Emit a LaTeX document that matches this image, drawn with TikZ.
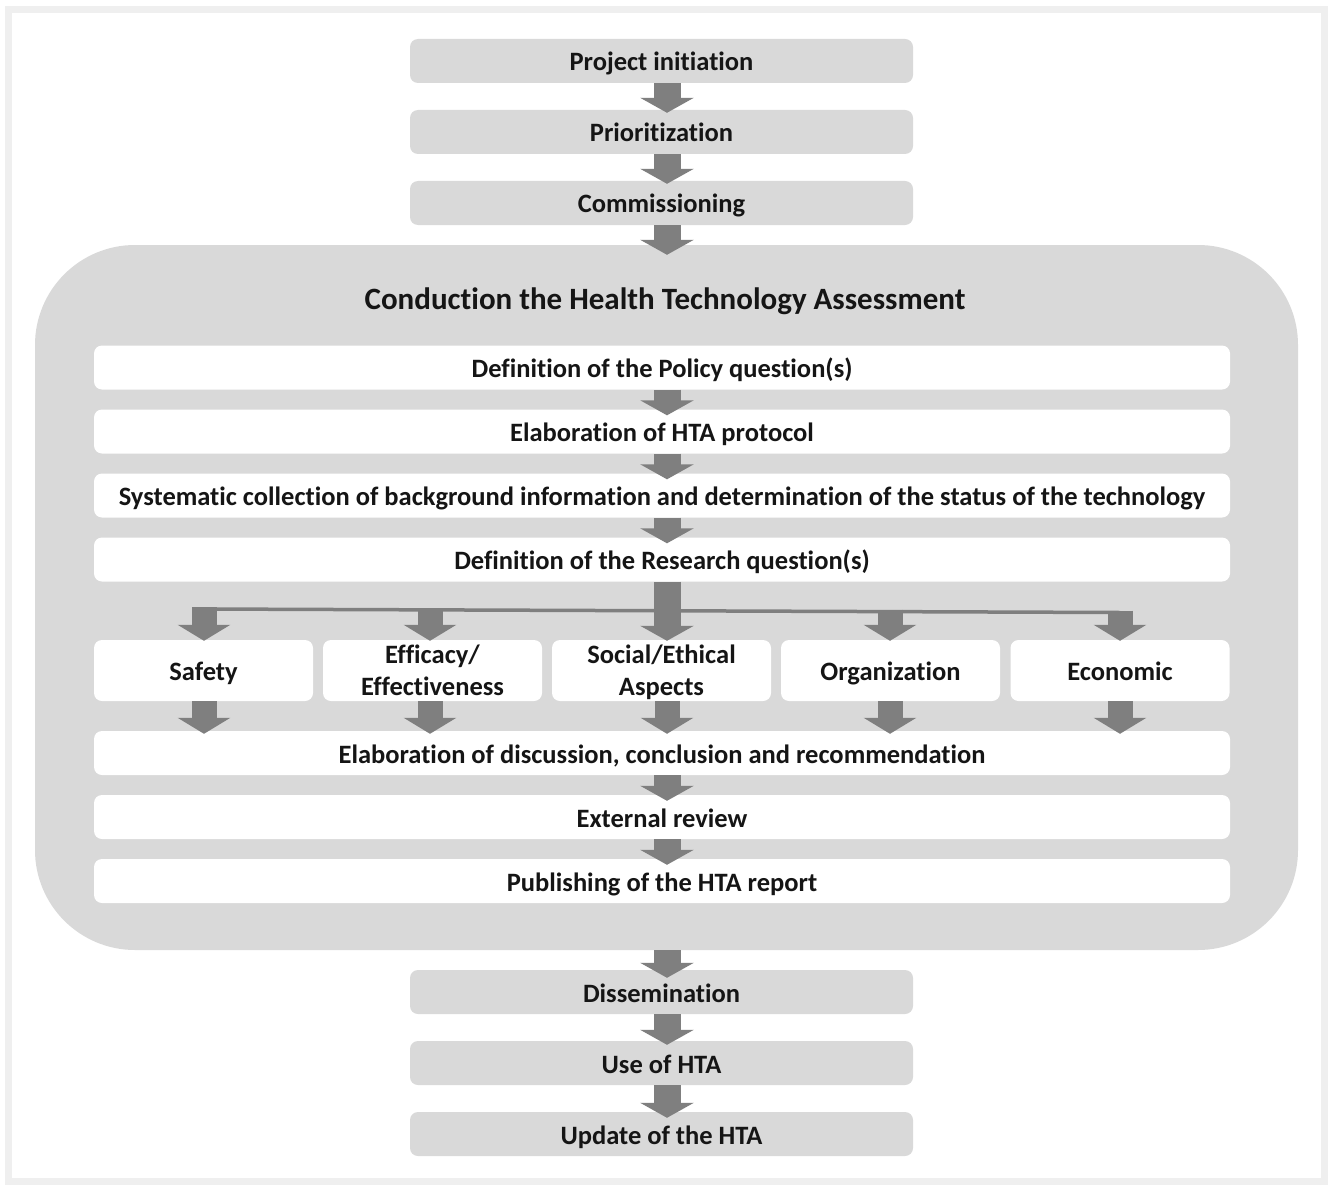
\documentclass[tikz,border=0pt]{standalone}
\usepackage{fontspec}
\setmainfont{Carlito}[Ligatures={NoCommon}]
\usetikzlibrary{arrows.meta,calc}
\definecolor{boxgray}{HTML}{D9D9D9}
\definecolor{arrgray}{HTML}{7F7F7F}
\definecolor{framegray}{HTML}{EFEFEF}
\definecolor{txt}{HTML}{151515}
\begin{document}
\begin{tikzpicture}[x=1pt,y=-1pt,
 lab/.style={font=\bfseries\fontsize{26.5}{32}\selectfont, text=txt, align=center, inner sep=0pt},
 one/.style={text height=22pt, text depth=2pt},
 gbox/.style={lab, one, fill=boxgray, rounded corners=8pt, minimum width=503pt, minimum height=44pt},
 wbox/.style={lab, one, fill=white, rounded corners=8pt, minimum width=1136pt, minimum height=44pt},
 sbox/.style={lab, fill=white, rounded corners=8pt, minimum width=219pt, minimum height=61pt},
 blk/.style={draw=arrgray, line width=27pt, -{Triangle[width=53pt,length=15pt]}},
 sblk/.style={draw=arrgray, line width=25pt, -{Triangle[width=52pt,length=16pt]}},
]
\useasboundingbox (0,0) rectangle (1330,1185);
\fill[white] (0,0) rectangle (1330,1185);
\draw[framegray, line width=7pt] (8,9.5) rectangle (1324,1181);

\coordinate (ax) at (667,0);

% top boxes
\node[gbox] (pi) at (661.5,61) {Project initiation};
\node[gbox] (pr) at (661.5,132) {Prioritization};
\node[gbox] (co) at (661.5,203) {Commissioning};

% container
\node[fill=boxgray, rounded corners=100pt, minimum width=1263pt, minimum height=705pt, inner sep=0pt] (hta) at (666.5,597.5) {};
\node[lab, font=\bfseries\fontsize{31}{36}\selectfont, text height=21pt, text depth=0pt] (title) at (665,299) {Conduction the Health Technology Assessment};

\node[wbox] (pq) at (662,367.5) {Definition of the Policy question(s)};
\node[wbox] (hp) at (662,431.5) {Elaboration of HTA protocol};
\node[wbox] (sc) at (662,495.5) {Systematic collection of background information and determination of the status of the technology};
\node[wbox] (rq) at (662,559.5) {Definition of the Research question(s)};

\node[sbox, one] (sa) at (203.5,670.5) {Safety};
\node[sbox] (ef) at (432.5,670.5) {Efficacy/\\Effectiveness};
\node[sbox] (so) at (661.5,670.5) {Social/Ethical\\\raisebox{0pt}[\height][0pt]{Aspects}};
\node[sbox, one] (or) at (890.5,670.5) {Organization};
\node[sbox, one] (ec) at (1120,670.5) {Economic};

\node[wbox] (el) at (662,753) {Elaboration of discussion, conclusion and recommendation};
\node[wbox] (er) at (662,817) {External review};
\node[wbox] (pu) at (662,881) {Publishing of the HTA report};

% bottom boxes
\node[gbox] (di) at (661.5,992) {Dissemination};
\node[gbox] (us) at (661.5,1063) {Use of HTA};
\node[gbox] (up) at (661.5,1134) {Update of the HTA};

% main column arrows
\draw[blk] (pi.south -| ax) -- ($(pr.north -| ax)+(0,3)$);
\draw[blk] (pr.south -| ax) -- ($(co.north -| ax)+(0,3)$);
\draw[blk] (co.south -| ax) -- ($(hta.north -| ax)+(0,10)$);
\draw[blk] (pq.south -| ax) -- ($(hp.north -| ax)+(0,6)$);
\draw[blk] (hp.south -| ax) -- ($(sc.north -| ax)+(0,6)$);
\draw[blk] (sc.south -| ax) -- ($(rq.north -| ax)+(0,6)$);

% branching
\coordinate (b1) at (204,609);
\coordinate (b2) at (430,610);
\coordinate (b4) at (890,611.5);
\coordinate (b5) at (1120,612.5);
\draw[arrgray, line width=3.5pt] (b1) -- (b5);
\draw[blk] (rq.south -| ax) -- ($(so.north -| ax)+(0,1)$);
\draw[sblk] ($(b1)+(0,-2)$) -- ($(sa.north -| b1)+(0,1)$);
\draw[sblk] ($(b2)+(0,-2)$) -- ($(ef.north -| b2)+(0,1)$);
\draw[sblk] ($(b4)+(0,-2)$) -- ($(or.north -| b4)+(0,1)$);
\draw[sblk] ($(b5)+(0,-2)$) -- ($(ec.north -| b5)+(0,1)$);

% into elaboration
\draw[sblk] (sa.south -| b1) -- ($(el.north -| b1)+(0,3)$);
\draw[sblk] (ef.south -| b2) -- ($(el.north -| b2)+(0,3)$);
\draw[sblk] (so.south -| ax) -- ($(el.north -| ax)+(0,3)$);
\draw[sblk] (or.south -| b4) -- ($(el.north -| b4)+(0,3)$);
\draw[sblk] (ec.south -| b5) -- ($(el.north -| b5)+(0,3)$);

\draw[blk] (el.south -| ax) -- ($(er.north -| ax)+(0,6)$);
\draw[blk] (er.south -| ax) -- ($(pu.north -| ax)+(0,6)$);

% out of container
\draw[blk] (hta.south -| ax) -- ($(di.north -| ax)+(0,8)$);
\draw[blk] (di.south -| ax) -- ($(us.north -| ax)+(0,4)$);
\draw[blk] (us.south -| ax) -- ($(up.north -| ax)+(0,6)$);
\end{tikzpicture}
\end{document}
